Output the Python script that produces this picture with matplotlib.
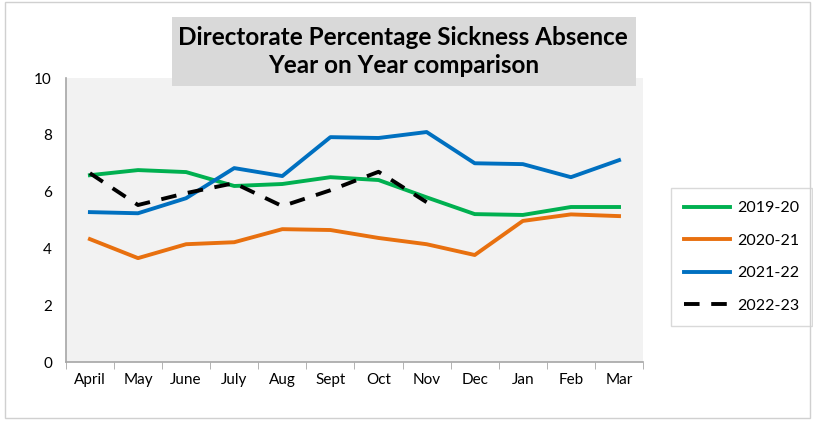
import matplotlib.pyplot as plt
from matplotlib.patches import Rectangle

months = ["April", "May", "June", "July", "Aug", "Sept", "Oct", "Nov", "Dec", "Jan", "Feb", "Mar"]
y2019_20 = [6.58, 6.76, 6.69, 6.20, 6.27, 6.51, 6.41, 5.80, 5.21, 5.18, 5.46, 5.46]
y2020_21 = [4.33, 3.66, 4.15, 4.22, 4.68, 4.65, 4.37, 4.15, 3.77, 4.97, 5.20, 5.14]
y2021_22 = [5.28, 5.24, 5.77, 6.83, 6.55, 7.92, 7.89, 8.10, 7.00, 6.97, 6.51, 7.11]
y2022_23 = [6.65, 5.53, 5.95, 6.30, 5.49, 6.05, 6.70, 5.63]

plt.rcParams['font.family'] = ['Lato', 'DejaVu Sans']

fig = plt.figure(figsize=(8.13, 4.22), dpi=100)
fig.patches.append(Rectangle((0.006, 0.01), 0.99, 0.985, transform=fig.transFigure,
                             fill=False, edgecolor='#d0d0d0', linewidth=1))

ax = fig.add_axes([0.081, 0.142, 0.71, 0.673])
ax.set_facecolor('#f2f2f2')

x = list(range(len(months)))
ax.plot(x, y2019_20, color='#00b050', lw=2.8, label='2019-20')
ax.plot(x, y2020_21, color='#e8700f', lw=2.8, label='2020-21')
ax.plot(x, y2021_22, color='#0070c0', lw=2.8, label='2021-22')
ax.plot(x[:len(y2022_23)], y2022_23, color='black', lw=2.8, dashes=(4, 3), label='2022-23')

ax.set_xlim(-0.5, len(months) - 0.5)
ax.set_ylim(0, 10)
ax.set_yticks(range(0, 11, 2))
ax.set_xticks(x)
ax.set_xticklabels(months)
ax.set_xticks([i - 0.5 for i in range(len(months) + 1)], minor=True)
ax.tick_params(axis='x', which='major', length=0, pad=8, labelsize=11)
ax.tick_params(axis='x', which='minor', length=5, color='#a6a6a6')
ax.tick_params(axis='y', length=0, pad=10, labelsize=11)
for s in ['top', 'right']:
    ax.spines[s].set_visible(False)
for s in ['left', 'bottom']:
    ax.spines[s].set_color('#a6a6a6')
    ax.spines[s].set_linewidth(1.2)

fig.patches.append(Rectangle((0.211, 0.796), 0.571, 0.164, transform=fig.transFigure,
                             facecolor='#d9d9d9', edgecolor='none', zorder=3))
fig.text(0.496, 0.878, "Directorate Percentage Sickness Absence\nYear on Year comparison",
         ha='center', va='center', fontsize=17.5, fontweight='bold', linespacing=1.25, zorder=4)

leg = ax.legend(loc='center left', bbox_to_anchor=(1.035, 0.37), fontsize=11.5,
                frameon=True, fancybox=False, edgecolor='#d0d0d0', handlelength=2.9,
                labelspacing=1.15, borderpad=0.8, handletextpad=0.4)
leg.get_frame().set_linewidth(1)

fig.savefig('out.png', dpi=100)
